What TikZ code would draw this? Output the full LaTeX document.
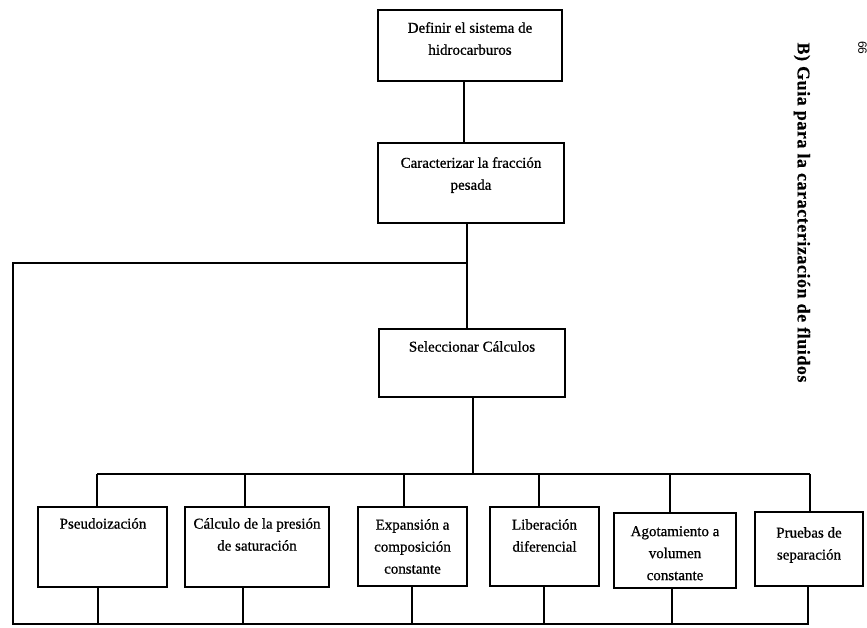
\documentclass[tikz,border=0pt]{standalone}
\usepackage{fontspec}
\setmainfont{Liberation Serif}[FakeBold=0.8]
\newfontfamily\titlefont{Liberation Serif}[FakeBold=0.3,LetterSpace=3]
\newfontfamily\pgfont{Liberation Sans}
\usetikzlibrary{calc}
\tikzset{
  box/.style={draw, line width=1.4pt, inner sep=0pt, rectangle},
  txt/.style={inner sep=0pt, align=center, anchor=north, font=\fontsize{15}{22}\selectfont},
  conn/.style={line width=1.1pt}
}
\begin{document}
\begin{tikzpicture}[x=1pt,y=-1pt]
\useasboundingbox (0,0) rectangle (867,628);
% boxes
\node[box, minimum width=184pt, minimum height=71pt] (b1) at (470,45.5) {};
\node[box, minimum width=186pt, minimum height=80pt] (b2) at (471,183) {};
\node[box, minimum width=186pt, minimum height=68pt] (b3) at (472,363) {};
\node[box, minimum width=129pt, minimum height=80pt] (bA) at (102.5,547) {};
\node[box, minimum width=144pt, minimum height=80pt] (bB) at (257,547) {};
\node[box, minimum width=109pt, minimum height=79pt] (bC) at (412.5,546.5) {};
\node[box, minimum width=109pt, minimum height=79pt] (bD) at (544.5,546.5) {};
\node[box, minimum width=122pt, minimum height=75pt] (bE) at (675,550.5) {};
\node[box, minimum width=108pt, minimum height=74pt] (bF) at (809,549) {};
% texts
\node[txt] (t1) at (470,22) {Definir el sistema de\\hidrocarburos};
\node[txt] (t2) at (471,157) {Caracterizar la fracción\\pesada};
\node[txt] (t3) at (472,341) {Seleccionar Cálculos};
\node[txt] (tA) at (103,518) {Pseudoización};
\node[txt] (tB) at (257,518) {Cálculo de la presión\\de saturación};
\node[txt] (tC) at (412.5,519) {Expansión a\\composición\\constante};
\node[txt] (tD) at (544.5,519) {Liberación\\diferencial};
\node[txt] (tE) at (675,526) {Agotamiento a\\volumen\\constante};
\node[txt] (tF) at (809,527) {Pruebas de\\separación};
% side texts
\node[rotate=-90, inner sep=0pt, font=\titlefont\fontsize{18}{20}\selectfont\bfseries] (title) at (802,212.5) {B) Guia para la caracterización de fluidos};
\node[rotate=-90, inner sep=0pt, font=\pgfont\fontsize{12}{13}\selectfont] (pg) at (862.5,48) {66};
% junction coordinates
\coordinate (jL) at (467,263);
\coordinate (cL) at (13,263);
\coordinate (cLB) at (13,624);
\coordinate (bus) at (473,474);
% connectors
\draw[conn] ([xshift=-6pt]b1.south) -- ([xshift=-6pt]b1.south |- b2.north);
\draw[conn] ([xshift=-4pt]b2.south) -- ([xshift=-4pt]b2.south |- b3.north);
\draw[conn] ([xshift=-4pt]b2.south |- jL) -- (cL) -- (cLB) -- ([xshift=-1pt]bF.south |- cLB) -- ([xshift=-1pt]bF.south);
\draw[conn] ([xshift=1pt]b3.south) -- ([xshift=1pt]b3.south |- bus);
\draw[conn] ([xshift=-5.5pt]bA.north |- bus) -- ([xshift=1pt]bF.north |- bus);
\draw[conn] ([xshift=-5.5pt]bA.north |- bus) -- ([xshift=-5.5pt]bA.north);
\draw[conn] ([xshift=-12pt]bB.north |- bus) -- ([xshift=-12pt]bB.north);
\draw[conn] ([xshift=-8.5pt]bC.north |- bus) -- ([xshift=-8.5pt]bC.north);
\draw[conn] ([xshift=-5.5pt]bD.north |- bus) -- ([xshift=-5.5pt]bD.north);
\draw[conn] ([xshift=-5pt]bE.north |- bus) -- ([xshift=-5pt]bE.north);
\draw[conn] ([xshift=1pt]bF.north |- bus) -- ([xshift=1pt]bF.north);
\draw[conn] ([xshift=-4.5pt]bA.south) -- ([xshift=-4.5pt]bA.south |- cLB);
\draw[conn] ([xshift=-14pt]bB.south) -- ([xshift=-14pt]bB.south |- cLB);
\draw[conn] ([xshift=-0.5pt]bC.south) -- ([xshift=-0.5pt]bC.south |- cLB);
\draw[conn] ([xshift=-0.5pt]bD.south) -- ([xshift=-0.5pt]bD.south |- cLB);
\draw[conn] ([xshift=-3pt]bE.south) -- ([xshift=-3pt]bE.south |- cLB);
\end{tikzpicture}
\end{document}
